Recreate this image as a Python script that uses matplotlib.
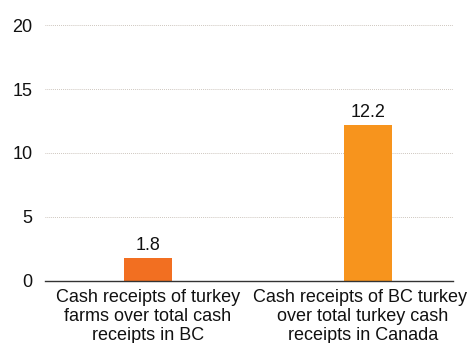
import matplotlib.pyplot as plt

# Data
categories = ["Cash receipts of turkey\nfarms over total cash\nreceipts in BC",
              "Cash receipts of BC turkey\nover total turkey cash\nreceipts in Canada"]
values = [1.8, 12.2]
colors = ["#F26F21", "#F7941D"]
yticks = [0, 5, 10, 15, 20]

plt.rcParams['font.family'] = ['Liberation Sans', 'DejaVu Sans']
FS = 13
LS = 1.13
PAD = 6  # points below the axis line

fig = plt.figure(figsize=(4.69, 3.43), dpi=100)
ax = fig.add_axes([0.096, 0.181, 0.870, 0.746])

x = list(range(len(values)))
bars = ax.bar(x, values, width=0.218, color=colors, zorder=3)

# value labels above bars
for xi, v in zip(x, values):
    ax.annotate(f"{v}", (xi, v), xytext=(0, 2.5), textcoords="offset points",
                ha="center", va="bottom", fontsize=FS, color="#111111")

ax.set_xlim(-0.468, 1.386)
ax.set_ylim(0, 20)
ax.set_yticks(yticks)
ax.set_xticks(x)

# last label is wider than its slot, so it sits a bit left of its bar (as in the original)
ax.set_xticklabels(categories[:-1] + [""], fontsize=FS, color="#111111", linespacing=LS)
first, rest = categories[-1].split("\n", 1)
ax.annotate(first, xy=(x[-1], 0), xycoords=("data", "axes fraction"),
            xytext=(-5.8, -PAD), textcoords="offset points", ha="center", va="top",
            fontsize=FS, color="#111111")
ax.annotate(rest, xy=(x[-1], 0), xycoords=("data", "axes fraction"),
            xytext=(-3.6, -PAD - 13.4), textcoords="offset points", ha="center", va="top",
            fontsize=FS, color="#111111", linespacing=LS)

ax.tick_params(axis="y", length=0, pad=9, labelsize=FS, labelcolor="#111111")
ax.tick_params(axis="x", length=0, pad=PAD)

# dotted gridlines
ax.yaxis.grid(True, linestyle=(0, (0.8, 1.2)), color="#c4bbb2", linewidth=0.7, zorder=0)
for s in ["top", "right", "left"]:
    ax.spines[s].set_visible(False)
ax.spines["bottom"].set_color("#333333")
ax.spines["bottom"].set_linewidth(1.0)
ax.spines["bottom"].set_zorder(4)

fig.savefig("out.png", dpi=100)
